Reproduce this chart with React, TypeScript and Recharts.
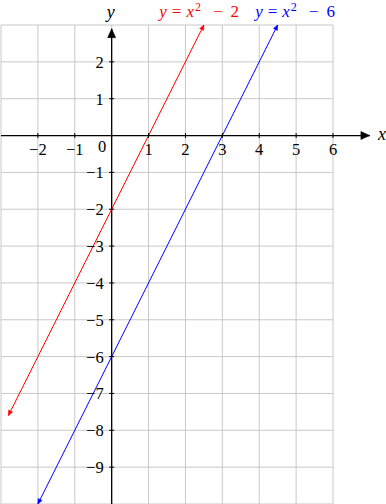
import React from "react";
import {
  LineChart,
  Line,
  XAxis,
  YAxis,
  CartesianGrid,
  ReferenceLine,
  ReferenceDot,
} from "recharts";

const xDomain = [-3, 6];
const yDomain = [-10, 3];
const xGrid = [-3, -2, -1, 0, 1, 2, 3, 4, 5, 6];
const yGrid = [-10, -9, -8, -7, -6, -5, -4, -3, -2, -1, 0, 1, 2, 3];
const xTicks = [-2, -1, 1, 2, 3, 4, 5, 6];
const yTicks = [2, 1, -1, -2, -3, -4, -5, -6, -7, -8, -9];

// y = 2x - 2 and y = 2x - 6 (labelled as in the original)
const redLine = [
  { x: -2.8, y: -7.6 },
  { x: 2.5, y: 3 },
];
const blueLine = [
  { x: -2, y: -10 },
  { x: 4.5, y: 3 },
];
const fnLabels = [
  { x: 1.29, c: "2", color: "#ff0000" },
  { x: 3.89, c: "6", color: "#0000ff" },
];

const FONT = "'Liberation Serif', 'Times New Roman', serif";
const fmt = (v: number) => (v < 0 ? "\u2212" + Math.abs(v) : String(v));

function Arrow({ cx, cy, angle, size = 6, color = "#000" }: any) {
  const w = size * 0.45;
  const bx = cx - size * Math.cos(angle);
  const by = cy - size * Math.sin(angle);
  const px = -Math.sin(angle) * w;
  const py = Math.cos(angle) * w;
  return (
    <polygon
      points={`${cx},${cy} ${bx + px},${by + py} ${bx - px},${by - py}`}
      fill={color}
      stroke={color}
      strokeWidth={0.5}
    />
  );
}

function lineDot(data: { x: number; y: number }[], color: string) {
  return (p: any) => {
    const from = p.index === 0 ? data[1] : data[0];
    const to = p.index === 0 ? data[0] : data[1];
    const angle = Math.atan2(-(to.y - from.y), to.x - from.x);
    return (
      <Arrow key={`a-${color}-${p.index}`} cx={p.cx} cy={p.cy} angle={angle} size={5} color={color} />
    );
  };
}

function XTick(props: any) {
  const { cx, cy, value } = props;
  return (
    <g>
      <line x1={cx} x2={cx} y1={cy - 2.5} y2={cy + 2.5} stroke="#000" strokeWidth={1} />
      <text x={cx} y={cy + 19} textAnchor="middle" style={{ fontFamily: FONT, fontSize: 16.5 }} fill="#000">
        {fmt(value)}
      </text>
    </g>
  );
}

function YTick(props: any) {
  const { cx, cy, value } = props;
  return (
    <g>
      <line x1={cx - 2.5} x2={cx + 2.5} y1={cy} y2={cy} stroke="#000" strokeWidth={1} />
      <text x={cx - 8} y={cy + 6} textAnchor="end" style={{ fontFamily: FONT, fontSize: 16.5 }} fill="#000">
        {fmt(value)}
      </text>
    </g>
  );
}

function FnLabel({ cx, cy, color, c }: any) {
  return (
    <text x={cx} y={cy - 8} textAnchor="start" style={{ fontFamily: FONT, fontSize: 17 }} fill={color}>
      <tspan fontStyle="italic">y</tspan>
      <tspan dx={5}>=</tspan>
      <tspan dx={5} fontStyle="italic">x</tspan>
      <tspan dx={1} dy={-6} fontSize={12}>2</tspan>
      <tspan dx={12} dy={6}>{"\u2212"}</tspan>
      <tspan dx={8}>{c}</tspan>
    </text>
  );
}

const vGen = (props: any) => {
  const s = props?.xAxis?.scale;
  if (typeof s === "function") return xGrid.map((v) => s(v));
  const o = props.offset;
  return xGrid.map((v) => o.left + ((v - xDomain[0]) / (xDomain[1] - xDomain[0])) * o.width);
};
const hGen = (props: any) => {
  const s = props?.yAxis?.scale;
  if (typeof s === "function") return yGrid.map((v) => s(v));
  const o = props.offset;
  return yGrid.map((v) => o.top + ((yDomain[1] - v) / (yDomain[1] - yDomain[0])) * o.height);
};

export default function App() {
  return (
    <div style={{ position: "absolute", left: 0, top: 0, background: "#fff" }}>
      <LineChart width={386} height={504} margin={{ top: 25, right: 53, bottom: 0, left: 1 }}>
        <CartesianGrid
          stroke="#c8c8c8"
          strokeWidth={1}
          verticalCoordinatesGenerator={vGen}
          horizontalCoordinatesGenerator={hGen}
        />
        <XAxis
          type="number"
          dataKey="x"
          domain={xDomain}
          ticks={xGrid}
          allowDataOverflow
          tick={false}
          tickLine={false}
          axisLine={false}
          height={0}
        />
        <YAxis
          type="number"
          domain={yDomain}
          ticks={yGrid}
          allowDataOverflow
          tick={false}
          tickLine={false}
          axisLine={false}
          width={0}
        />
        <ReferenceLine
          segment={[{ x: -3, y: 0 }, { x: 7, y: 0 }]}
          stroke="#000"
          strokeWidth={1.3}
          ifOverflow="visible"
        />
        <ReferenceLine
          segment={[{ x: 0, y: -10 }, { x: 0, y: 2.9 }]}
          stroke="#000"
          strokeWidth={1.3}
          ifOverflow="visible"
        />
        <ReferenceDot
          x={7}
          y={0}
          r={0}
          ifOverflow="visible"
          shape={(p: any) => (
            <g>
              <Arrow cx={p.cx} cy={p.cy} angle={0} size={9} />
              <text x={p.cx + 12} y={p.cy + 4} textAnchor="middle" style={{ fontFamily: FONT, fontSize: 18, fontStyle: "italic" }}>
                x
              </text>
            </g>
          )}
        />
        <ReferenceDot
          x={0}
          y={2.9}
          r={0}
          ifOverflow="visible"
          shape={(p: any) => (
            <g>
              <Arrow cx={p.cx} cy={p.cy} angle={-Math.PI / 2} size={9} />
              <text x={p.cx - 1} y={p.cy - 11} textAnchor="middle" style={{ fontFamily: FONT, fontSize: 18, fontStyle: "italic" }}>
                y
              </text>
            </g>
          )}
        />
        {xTicks.map((v) => (
          <ReferenceDot key={`xt${v}`} x={v} y={0} r={0} ifOverflow="visible" shape={(p: any) => <XTick {...p} value={v} />} />
        ))}
        {yTicks.map((v) => (
          <ReferenceDot key={`yt${v}`} x={0} y={v} r={0} ifOverflow="visible" shape={(p: any) => <YTick {...p} value={v} />} />
        ))}
        <ReferenceDot
          x={-0.26}
          y={-0.3}
          r={0}
          ifOverflow="visible"
          shape={(p: any) => (
            <text x={p.cx} y={p.cy + 5} textAnchor="middle" style={{ fontFamily: FONT, fontSize: 16.5 }}>
              0
            </text>
          )}
        />
        <Line
          data={redLine}
          dataKey="y"
          stroke="#ff0000"
          strokeWidth={1}
          dot={lineDot(redLine, "#ff0000")}
          activeDot={false}
          isAnimationActive={false}
        />
        <Line
          data={blueLine}
          dataKey="y"
          stroke="#0000ff"
          strokeWidth={1}
          dot={lineDot(blueLine, "#0000ff")}
          activeDot={false}
          isAnimationActive={false}
        />
        {fnLabels.map((l) => (
          <ReferenceDot
            key={l.c}
            x={l.x}
            y={3}
            r={0}
            ifOverflow="visible"
            shape={(p: any) => <FnLabel {...p} color={l.color} c={l.c} />}
          />
        ))}
      </LineChart>
    </div>
  );
}
